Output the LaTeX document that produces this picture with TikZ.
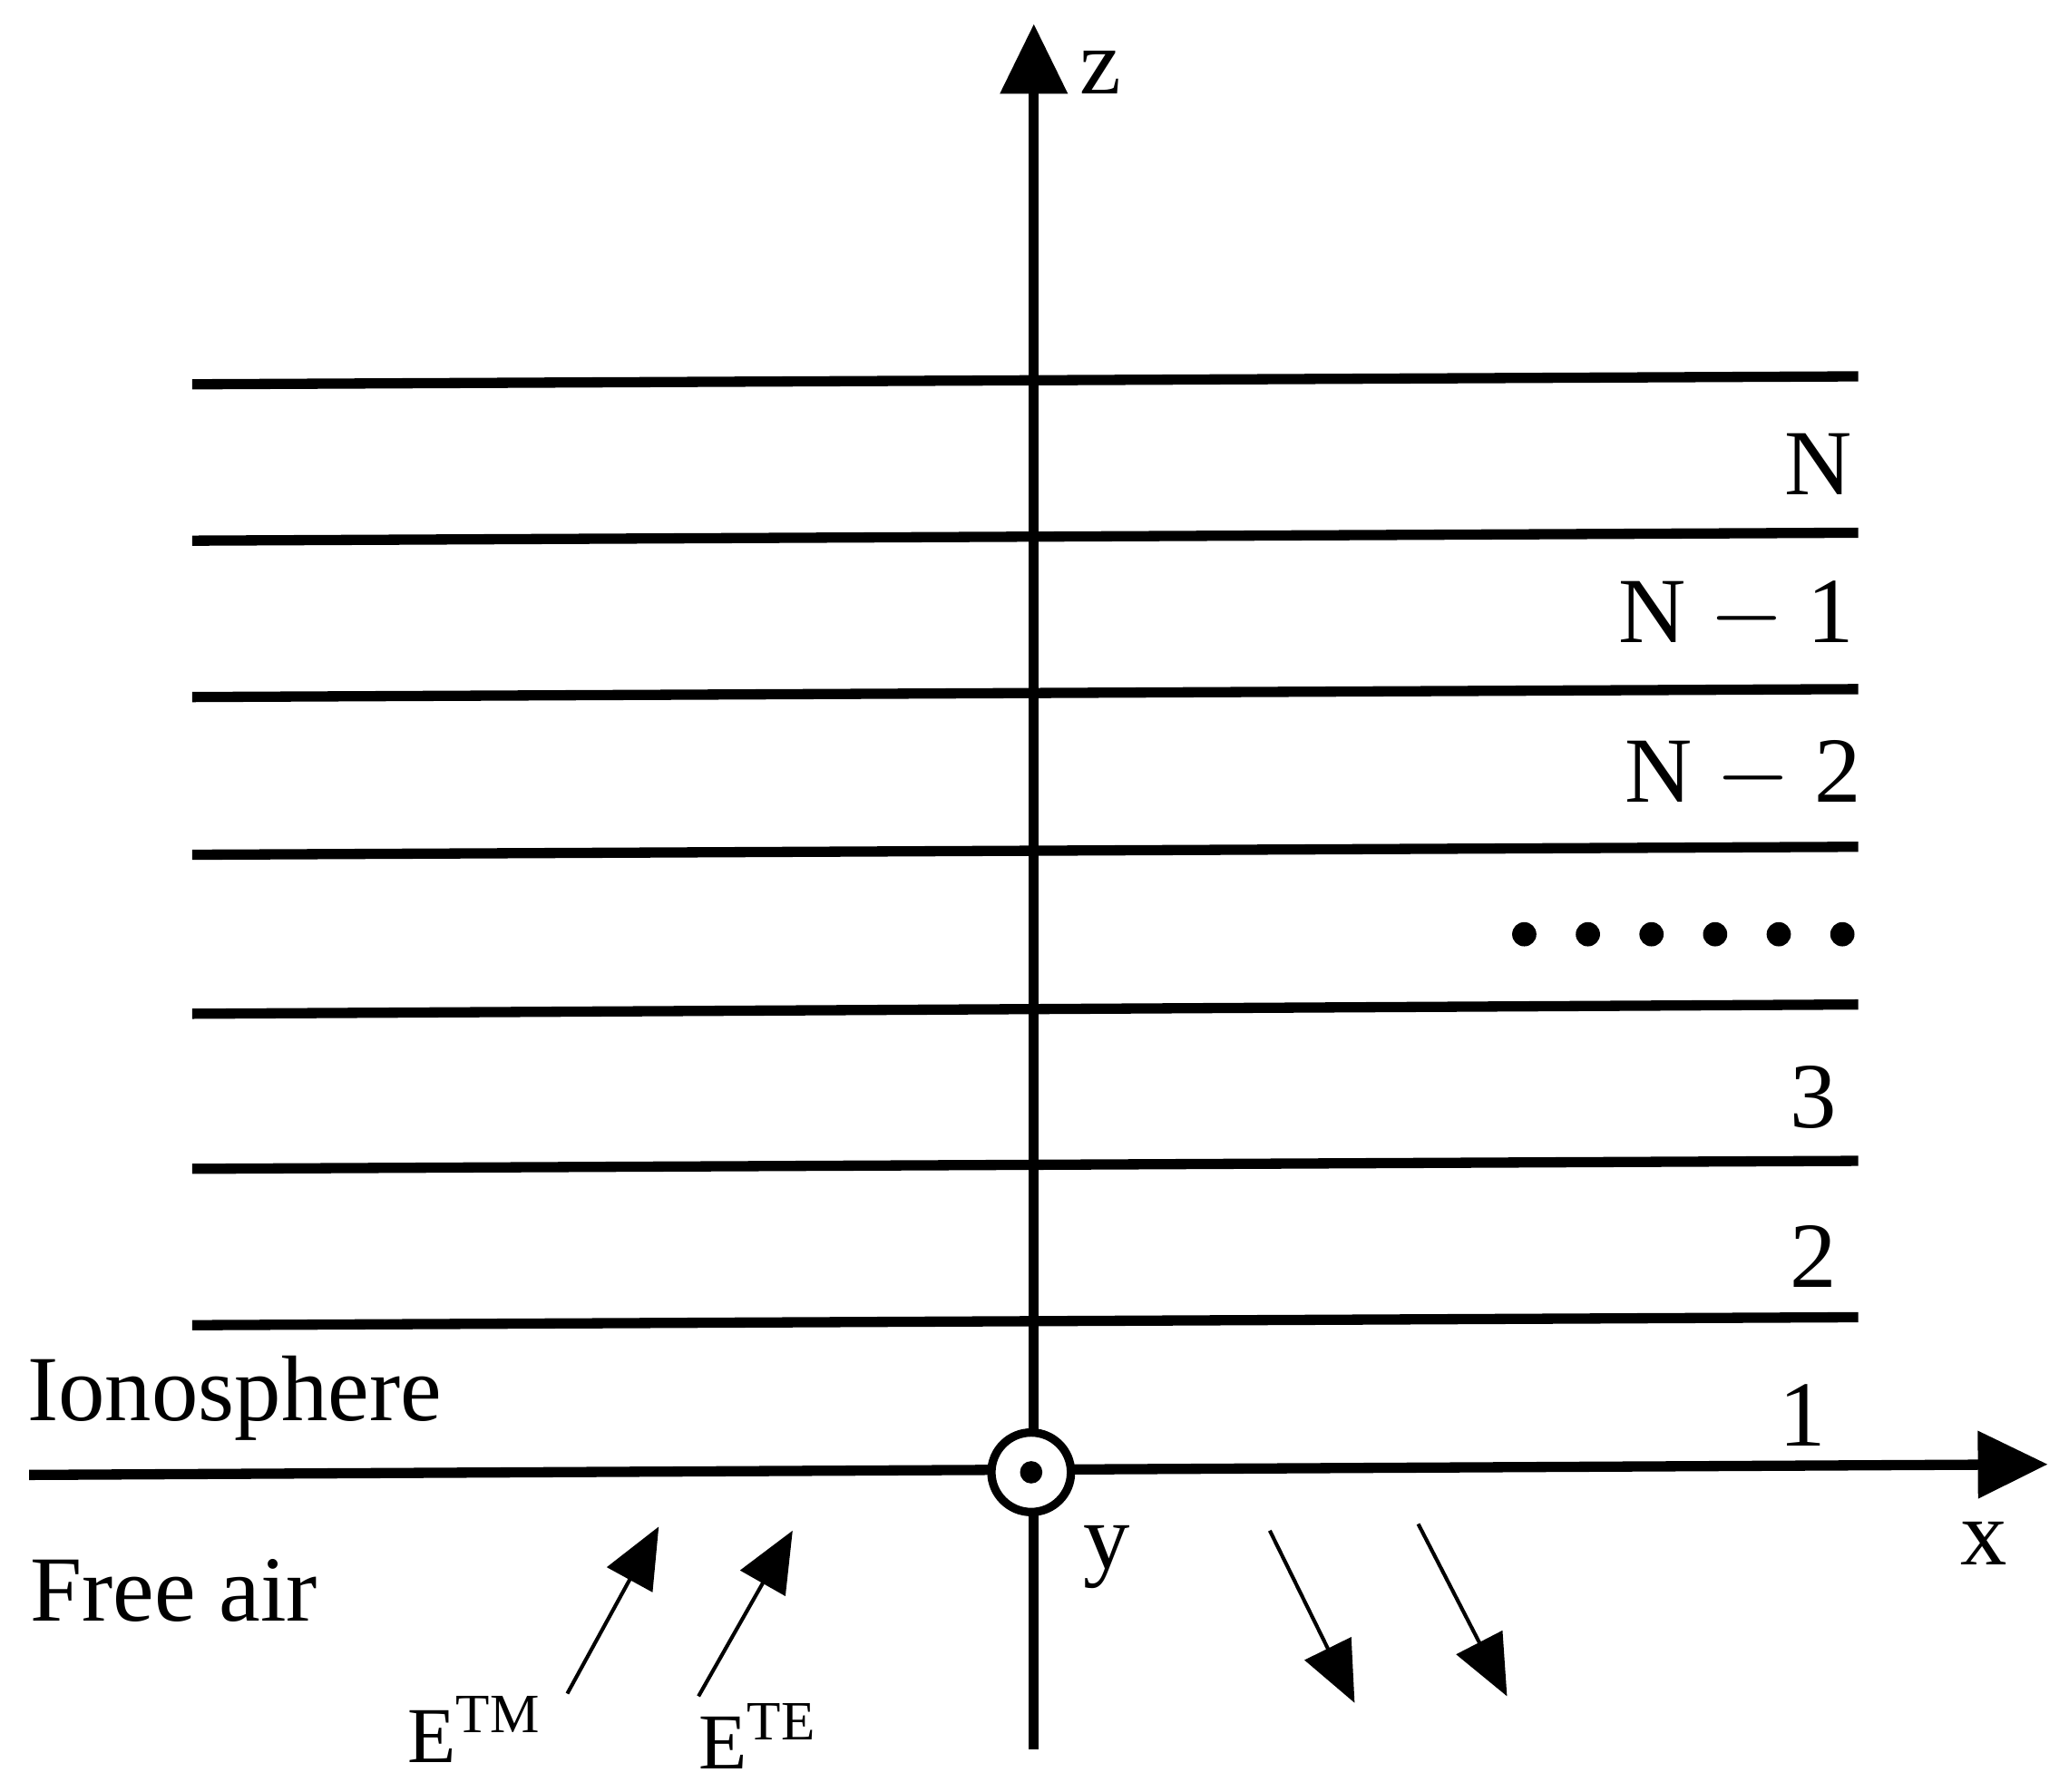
\documentclass[tikz,border=0pt]{standalone}
\usepackage{fontspec}
\setmainfont{Liberation Serif}
\usetikzlibrary{arrows.meta}
\begin{document}
\begin{tikzpicture}[x=0.01cm,y=-0.01cm,
  layer/.style={line width=2.2pt},
  axis/.style={line width=2.2pt,-{Triangle[length=15pt,width=14pt]}},
  wave/.style={line width=0.8pt,-{Triangle[length=13pt,width=11pt]}},
  lbl/.style={font=\fontsize{20}{24}\selectfont,inner sep=0pt},
  slbl/.style={font=\fontsize{17}{20}\selectfont,inner sep=0pt}]
\useasboundingbox (0,0) rectangle (1561,1352);
\foreach \a/\b in {290/284,408/402,526/520,645/639,765/758,882/876,1000/994}
  \draw[layer] (145,\a) -- (1402,\b);
\coordinate (zb) at (780,1320);
\coordinate (zt) at (780,18);
\draw[axis] (zb) -- (zt);
\coordinate (xl) at (22,1113);
\coordinate (xr) at (1545,1105);
\draw[axis] (xl) -- (xr);
\node[circle,draw,line width=1.8pt,fill=white,minimum size=0.6cm,inner sep=0pt] (o) at (778,1111) {};
\fill (o) circle (2.4pt);
\node[lbl] (zl) at (830,55) {z};
\node[lbl] (xlab) at (1497,1165) {x};
\node[lbl] (yl) at (835,1175) {y};
\node[lbl] (n) at (1372,350) {N};
\node[lbl] (n1) at (1310,465) {N $-$ 1};
\node[lbl] (n2) at (1315,585) {N $-$ 2};
\foreach \d in {1150,1198,1246,1294,1342,1390}
  \fill (\d,705) circle (2.6pt);
\node[lbl] (l3) at (1368,828) {3};
\node[lbl] (l2) at (1368,948) {2};
\node[lbl] (l1) at (1360,1068) {1};
\node[lbl,anchor=west] (ion) at (20,1055) {Ionosphere};
\node[lbl,anchor=west] (air) at (22,1200) {Free air};
\node[slbl] (etm) at (358,1305) {E\textsuperscript{TM}};
\node[slbl] (ete) at (572,1310) {E\textsuperscript{TE}};
\coordinate (a1s) at (428,1278); \coordinate (a1e) at (497,1152);
\coordinate (a2s) at (527,1280); \coordinate (a2e) at (598,1155);
\coordinate (a3s) at (958,1155); \coordinate (a3e) at (1022,1285);
\coordinate (a4s) at (1070,1150); \coordinate (a4e) at (1137,1280);
\draw[wave] (a1s) -- (a1e);
\draw[wave] (a2s) -- (a2e);
\draw[wave] (a3s) -- (a3e);
\draw[wave] (a4s) -- (a4e);
\end{tikzpicture}
\end{document}
